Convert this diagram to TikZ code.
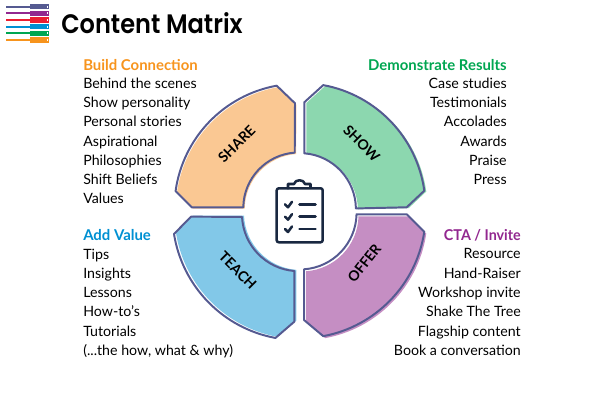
\documentclass[tikz,border=0pt]{standalone}
\usepackage{fontspec}
\setmainfont{Lato}
\newfontfamily\titlefont{Poppins}[BoldFont={* SemiBold}]
\definecolor{sharefill}{RGB}{250, 200, 147}
\definecolor{showfill}{RGB}{140, 215, 175}
\definecolor{teachfill}{RGB}{130, 200, 232}
\definecolor{offerfill}{RGB}{197, 142, 195}
\definecolor{petalline}{RGB}{85, 90, 145}
\definecolor{iconnavy}{RGB}{25, 40, 65}
\definecolor{orange1}{RGB}{247, 148, 29}
\definecolor{green1}{RGB}{0, 166, 81}
\definecolor{blue1}{RGB}{0, 144, 210}
\definecolor{purple1}{RGB}{146, 39, 143}
\definecolor{cablered}{RGB}{235, 30, 50}
\tikzset{
  petal/.style={draw=petalline, line width=1.4pt, line join=round},
  petaltext/.style={font=\fontsize{10}{12}\selectfont\bfseries, inner sep=0pt},
  headtext/.style={font=\fontsize{10.6}{12}\selectfont\bfseries, inner sep=0pt},
  listleft/.style={font=\fontsize{10.1}{13.7}\selectfont, align=left, anchor=north west, inner sep=0pt},
  listright/.style={font=\fontsize{10.1}{13.7}\selectfont, align=right, anchor=north east, inner sep=0pt},
  iconline/.style={draw=iconnavy, line width=1.8pt, line cap=round, line join=round}
}
\begin{document}
\begin{tikzpicture}[x=0.025cm, y=0.025cm]
  \useasboundingbox (0,0) rectangle (600,400);

  % Cable logo
  \foreach \ypos/\col in {393.3/petalline, 386.7/purple1, 380/cablered, 373.3/blue1, 366.7/green1, 360/orange1} {
    \draw[\col, line width=1.4pt] (6,\ypos) -- (30,\ypos);
    \draw[\col, line width=3.6pt] (30,\ypos) -- (49,\ypos);
    \fill[white] (46.5,\ypos-1) rectangle (48,\ypos+1);
  }

  % Title
  \node[font=\titlefont\fontsize{19}{24}\selectfont\bfseries, inner sep=0pt, anchor=west, xscale=0.9] (title) at (61,377) {Content Matrix};

  % Share
  \draw[petal, preaction={fill=sharefill, transform canvas={xshift=1pt, yshift=-1pt}}]
    (276.7,314.3) arc[start angle=100.3, end angle=172.1, radius=124.6] -- (191.7,192.7) -- (243.3,192.7)
    arc[start angle=179.3, end angle=94.2, radius=55.5] -- (295,296.7) -- cycle;
  \node[petaltext, rotate=45] (share) at (236.7,255.7) {SHARE};

  % Show
  \draw[petal, preaction={fill=showfill, transform canvas={xshift=1.4pt, yshift=-0.6pt}}]
    (322.3,314) -- (304.3,297.7) -- (304.3,246.7) arc[start angle=85.5, end angle=0.7, radius=56]
    -- (406.7,192.7) -- (424.3,209.3) arc[start angle=7.9, end angle=79.6, radius=124.8] -- cycle;
  \node[petaltext, rotate=-45] (show) at (361.7,256.7) {SHOW};

  % Teach
  \draw[petal, preaction={fill=teachfill, transform canvas={xshift=1.4pt, yshift=0.8pt}}]
    (191,183.3) -- (174,166) arc[start angle=189.1, end angle=259.5, radius=126] -- (294.3,78.3) -- (294.3,129)
    arc[start angle=265.3, end angle=182.7, radius=57] -- cycle;
  \node[petaltext, rotate=-45] (teach) at (237.7,129.3) {TEACH};

  % Offer
  \draw[petal, preaction={fill=offerfill, transform canvas={xshift=1.4pt, yshift=-1.4pt}}]
    (356.7,185.7) -- (406.7,185.7) -- (424.3,168.3) arc[start angle=-8.6, end angle=-79.5, radius=125.3]
    -- (304,80) -- (304,130.7) arc[start angle=-86, end angle=-1.3, radius=56.5] -- cycle;
  \node[petaltext, rotate=52] (offer) at (364.3,136.7) {OFFER};

  % Clipboard
  \draw[iconline, rounded corners=1.5pt] (288,211.7) -- (276.7,211.7) -- (276.7,157.7) -- (322.7,157.7) -- (322.7,211.7) -- (311,211.7);
  \draw[iconline, fill=white] (288,211.7) -- (288,216) -- (294,216) .. controls (295,221) and (304,221) .. (305,216) -- (310.5,216) -- (310.5,211.7) -- cycle;
  \foreach \ypos in {195.7, 183.3, 171} {
    \draw[iconline] (285,\ypos) -- (288,\ypos-3) -- (292,\ypos+2.5);
    \draw[iconline] (299.5,\ypos) -- (315.5,\ypos);
  }

  % Top left
  \node[headtext, text=orange1, anchor=west] (connect) at (83,335) {Build Connection};
  \node[listleft] (connectlist) at (83,322.5) {Behind the scenes\\Show personality\\Personal stories\\Aspirational\\Philosophies\\Shift Beliefs\\Values};

  % Top right
  \node[headtext, text=green1, anchor=east] (results) at (507,335) {Demonstrate Results};
  \node[listright] (resultslist) at (507,322.5) {Case studies\\Testimonials\\Accolades\\Awards\\Praise\\Press};

  % Bottom left
  \node[headtext, text=blue1, anchor=west] (addvalue) at (83,165) {Add Value};
  \node[listleft] (addvaluelist) at (83,151.5) {Tips\\Insights\\Lessons\\How-to’s\\Tutorials\\(...the how, what \& why)};

  % Bottom right
  \node[headtext, text=purple1, anchor=east, xscale=0.96] (invite) at (521,165) {CTA / Invite};
  \node[listright] (invitelist) at (521,151.5) {Resource\\Hand-Raiser\\Workshop invite\\Shake The Tree\\Flagship content\\Book a conversation};
\end{tikzpicture}
\end{document}
